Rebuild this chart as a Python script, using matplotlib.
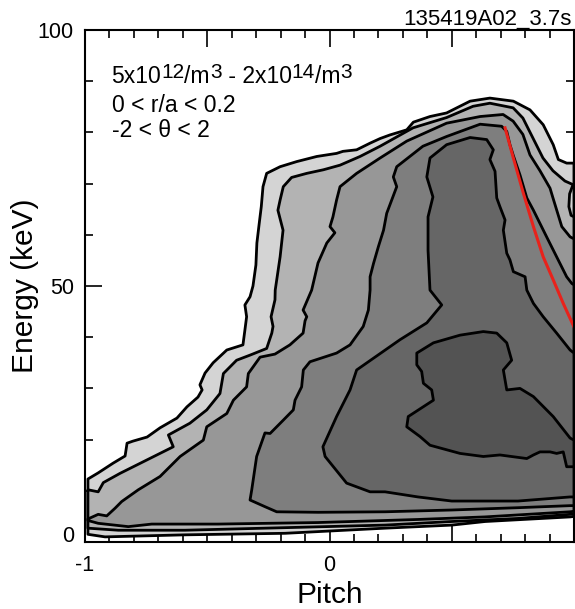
import matplotlib
matplotlib.use('Agg')
import matplotlib.pyplot as plt
import numpy as np

plt.rcParams['font.family'] = ['Liberation Sans', 'DejaVu Sans']

# ---- data: filled contour boundaries (pitch, energy keV), outermost first ----
contour_1 = [(-0.988, 12.3), (-0.946, 13.5), (-0.885, 15.4), (-0.836, 16.8), (-0.828, 19.3), (-0.804, 19.7),
             (-0.746, 20.5), (-0.693, 22.3), (-0.624, 24.2), (-0.583, 26.4), (-0.538, 28.3), (-0.521, 29.7),
             (-0.530, 30.7), (-0.509, 33.0), (-0.476, 35.0), (-0.420, 37.5), (-0.354, 38.5), (-0.346, 41.4),
             (-0.339, 44.0), (-0.346, 46.3), (-0.325, 47.9), (-0.313, 50.0), (-0.301, 54.1), (-0.297, 58.4),
             (-0.288, 62.0), (-0.279, 65.5), (-0.272, 69.4), (-0.257, 72.0), (-0.202, 73.3), (-0.134, 74.3),
             (-0.052, 75.3), (0.029, 75.9), (0.055, 76.3), (0.111, 76.6), (0.166, 77.9), (0.207, 78.8),
             (0.247, 79.5), (0.316, 80.5), (0.343, 82.0), (0.411, 83.1), (0.479, 83.8), (0.575, 86.1),
             (0.656, 86.7), (0.752, 86.1), (0.820, 84.4), (0.874, 81.5), (0.915, 77.6), (0.936, 74.7),
             (0.970, 74.0), (1.0, 74.0), (1.0, 5.0), (0.984, 4.9), (0.636, 4.0), (0.500, 3.3), (0.227, 2.7),
             (-0.182, 1.7), (-0.591, 1.4), (-0.918, 1.0), (-0.988, 1.5)]

contour_2 = [(-0.988, 10.2), (-0.946, 9.8), (-0.925, 11.6), (-0.857, 13.4), (-0.748, 16.0), (-0.639, 18.6),
             (-0.659, 20.9), (-0.571, 23.2), (-0.502, 25.8), (-0.448, 29.0), (-0.434, 32.9), (-0.380, 35.5),
             (-0.325, 36.5), (-0.257, 37.8), (-0.236, 40.8), (-0.231, 42.1), (-0.239, 44.0), (-0.223, 47.3),
             (-0.222, 49.2), (-0.202, 55.7), (-0.190, 60.9), (-0.211, 64.8), (-0.202, 66.8), (-0.189, 69.4),
             (-0.155, 71.2), (-0.093, 72.0), (-0.025, 72.7), (0.043, 73.6), (0.125, 75.3), (0.207, 77.3),
             (0.342, 80.9), (0.479, 82.9), (0.587, 85.1), (0.656, 85.7), (0.751, 84.8), (0.791, 82.8),
             (0.832, 78.9), (0.873, 75.0), (0.914, 72.5), (0.963, 70.5), (0.996, 69.8), (0.982, 68.0),
             (0.979, 65.5), (0.988, 63.8), (1.0, 63.5), (1.0, 5.5), (0.984, 5.4), (0.771, 4.6), (0.500, 4.0),
             (0.227, 3.3), (-0.182, 2.8), (-0.591, 2.3), (-0.864, 2.3), (-0.988, 2.7)]

contour_3 = [(-0.988, 4.5), (-0.946, 5.4), (-0.911, 5.1), (-0.877, 6.6), (-0.850, 7.9), (-0.782, 10.2),
             (-0.693, 12.8), (-0.611, 16.7), (-0.516, 19.9), (-0.502, 22.5), (-0.420, 25.1), (-0.393, 27.7),
             (-0.339, 30.3), (-0.332, 32.9), (-0.284, 36.1), (-0.223, 36.7), (-0.162, 38.5), (-0.108, 40.8),
             (-0.100, 43.2), (-0.093, 44.0), (-0.108, 45.3), (-0.073, 49.2), (-0.047, 54.5), (-0.011, 58.4),
             (0.022, 60.4), (0.002, 61.6), (0.014, 63.5), (0.029, 66.8), (0.043, 69.4), (0.111, 72.0),
             (0.207, 75.0), (0.316, 78.3), (0.479, 81.8), (0.616, 83.1), (0.710, 83.5), (0.751, 82.2),
             (0.791, 79.6), (0.820, 75.6), (0.861, 72.5), (0.902, 69.1), (0.914, 67.2), (0.950, 61.6),
             (0.984, 59.6), (1.0, 59.2), (1.0, 6.0), (0.984, 5.9), (0.636, 4.9), (0.362, 4.4), (-0.047, 3.8),
             (-0.456, 3.5), (-0.727, 3.5), (-0.823, 3.0), (-0.946, 3.65), (-0.988, 4.2)]

contour_4 = [(-0.325, 8.2), (-0.318, 10.2), (-0.298, 16.7), (-0.264, 21.3), (-0.243, 21.2), (-0.189, 23.8),
             (-0.148, 25.8), (-0.141, 27.7), (-0.114, 30.3), (-0.107, 33.6), (-0.080, 35.2), (0.029, 36.9),
             (0.084, 38.5), (0.138, 42.1), (0.159, 45.3), (0.166, 49.2), (0.166, 51.8), (0.180, 54.4),
             (0.200, 57.7), (0.221, 60.9), (0.234, 64.2), (0.275, 69.4), (0.261, 71.3), (0.275, 73.3),
             (0.382, 77.3), (0.479, 79.2), (0.616, 81.6), (0.704, 81.2), (0.725, 80.2), (0.738, 77.6),
             (0.751, 75.6), (0.779, 71.7), (0.807, 67.2), (0.834, 64.8), (0.888, 59.6), (0.929, 55.7),
             (0.970, 51.8), (0.991, 50.5), (1.0, 50.2), (1.0, 7.1), (0.984, 7.1), (0.771, 6.7), (0.500, 6.25),
             (0.227, 5.9), (-0.047, 5.8), (-0.216, 5.9), (-0.264, 6.9)]

contour_5 = [(0.411, 75.0), (0.479, 77.6), (0.575, 79.0), (0.643, 78.6), (0.670, 76.6), (0.656, 74.7),
             (0.677, 72.4), (0.684, 67.2), (0.697, 65.5), (0.718, 62.9), (0.711, 60.9), (0.725, 56.4),
             (0.738, 55.1), (0.752, 52.8), (0.800, 51.8), (0.807, 49.2), (0.834, 46.6), (0.874, 44.0),
             (0.929, 40.8), (0.984, 37.5), (1.0, 36.9), (1.0, 8.8), (0.984, 8.8), (0.771, 8.0), (0.500, 8.0),
             (0.362, 8.8), (0.227, 9.8), (0.166, 9.8), (0.070, 11.5), (-0.018, 16.7), (-0.027, 18.6),
             (0.029, 24.5), (0.084, 29.7), (0.111, 33.6), (0.288, 39.5), (0.398, 42.8), (0.459, 46.3),
             (0.411, 49.2), (0.403, 57.0), (0.403, 63.5), (0.423, 67.4), (0.398, 71.3)]

contour_6 = [(0.357, 36.9), (0.425, 38.9), (0.534, 40.4), (0.629, 41.1), (0.684, 40.8), (0.725, 38.9),
             (0.745, 35.5), (0.711, 33.6), (0.725, 29.7), (0.779, 30.0), (0.834, 28.4), (0.915, 24.5),
             (0.984, 20.3), (1.0, 19.9), (1.0, 14.7), (0.970, 14.7), (0.956, 17.6), (0.929, 17.3),
             (0.902, 17.6), (0.861, 17.6), (0.834, 17.0), (0.807, 16.3), (0.697, 17.0), (0.629, 16.7),
             (0.534, 17.3), (0.411, 18.9), (0.370, 20.6), (0.316, 22.5), (0.322, 24.5), (0.425, 27.7),
             (0.418, 29.7), (0.384, 31.0), (0.377, 33.3), (0.357, 34.6)]

red_pitch = [0.718, 0.752, 0.793, 0.834, 0.874, 0.915, 0.956, 1.0]
red_energy = [80.9, 75.0, 68.1, 61.6, 55.7, 51.2, 46.6, 42.0]

x_tick_labels = ['-1', '', '0', '', '']
y_tick_labels = ['0', '50', '100']
shot_label = '135419A02_3.7s'
# first info line as (text, is_superscript) pieces
density_pieces = [('5x10', False), ('12', True), ('/m', False), ('3', True),
                  (' - 2x10', False), ('14', True), ('/m', False), ('3', True)]
info_lines = ['0 < r/a < 0.2', '-2 < \u03b8 < 2']

# ---- styles ----
fill_colors = ['#d4d4d4', '#b3b3b3', '#979797', '#7e7e7e', '#666666', '#535353']
W, H = 575, 609

fig = plt.figure(figsize=(W / 100, H / 100), dpi=100)
ax = fig.add_axes([85 / W, 67 / H, 489 / W, 512 / H])

contours = [contour_1, contour_2, contour_3, contour_4, contour_5, contour_6]
for poly, col in zip(contours, fill_colors):
    p, e = zip(*poly)
    ax.fill(p, e, facecolor=col, edgecolor='black', linewidth=2.0, joinstyle='round', zorder=2)

ax.plot(red_pitch, red_energy, color='#e8221b', linewidth=2.2, zorder=3)

ax.set_xlim(-1, 1)
ax.set_ylim(0, 100)

ax.set_xticks([-1, -0.5, 0, 0.5, 1])
ax.set_xticklabels(x_tick_labels)
ax.set_xticks(np.arange(-1, 1.001, 0.1), minor=True)
ax.set_yticks([0, 50, 100])
ax.set_yticklabels(y_tick_labels)
ax.set_yticks(np.arange(0, 100.1, 10), minor=True)

ax.tick_params(which='both', direction='in', top=True, right=True, width=1.2, colors='black')
ax.tick_params(which='major', length=12)
ax.tick_params(which='minor', length=6)
ax.tick_params(axis='x', which='major', labelsize=15.5, pad=9.5)
ax.tick_params(axis='y', which='major', labelsize=15.5, pad=8)
for s in ax.spines.values():
    s.set_linewidth(1.5)
    s.set_zorder(5)

ax.set_xlabel('Pitch', fontsize=21.5, va='center')
ax.xaxis.set_label_coords(0.5, -0.1035)
ax.set_ylabel('Energy (keV)', fontsize=21.5, va='center')
ax.yaxis.set_label_coords(-0.123, 0.5)

fig.canvas.draw()
ax.get_yticklabels()[0].set_va('baseline')
renderer = fig.canvas.get_renderer()

# info text, baselines in pixels from top
base_fs, sup_fs, sup_rise = 16.5, 15, 5.5
x_px = 111.5
y_base = H - 83
for txt, sup in density_pieces:
    t = fig.text(x_px / W, (y_base + (sup_rise if sup else 0)) / H, txt,
                 fontsize=sup_fs if sup else base_fs, ha='left', va='baseline')
    x_px = t.get_window_extent(renderer).x1

for txt, yb in zip(info_lines, [111.7, 137.0]):
    fig.text(111.5 / W, (H - yb) / H, txt, fontsize=base_fs, ha='left', va='baseline')

fig.text(572 / W, 1 - 19 / H, shot_label, fontsize=16, ha='right', va='center')

fig.savefig('out.png', dpi=100)
